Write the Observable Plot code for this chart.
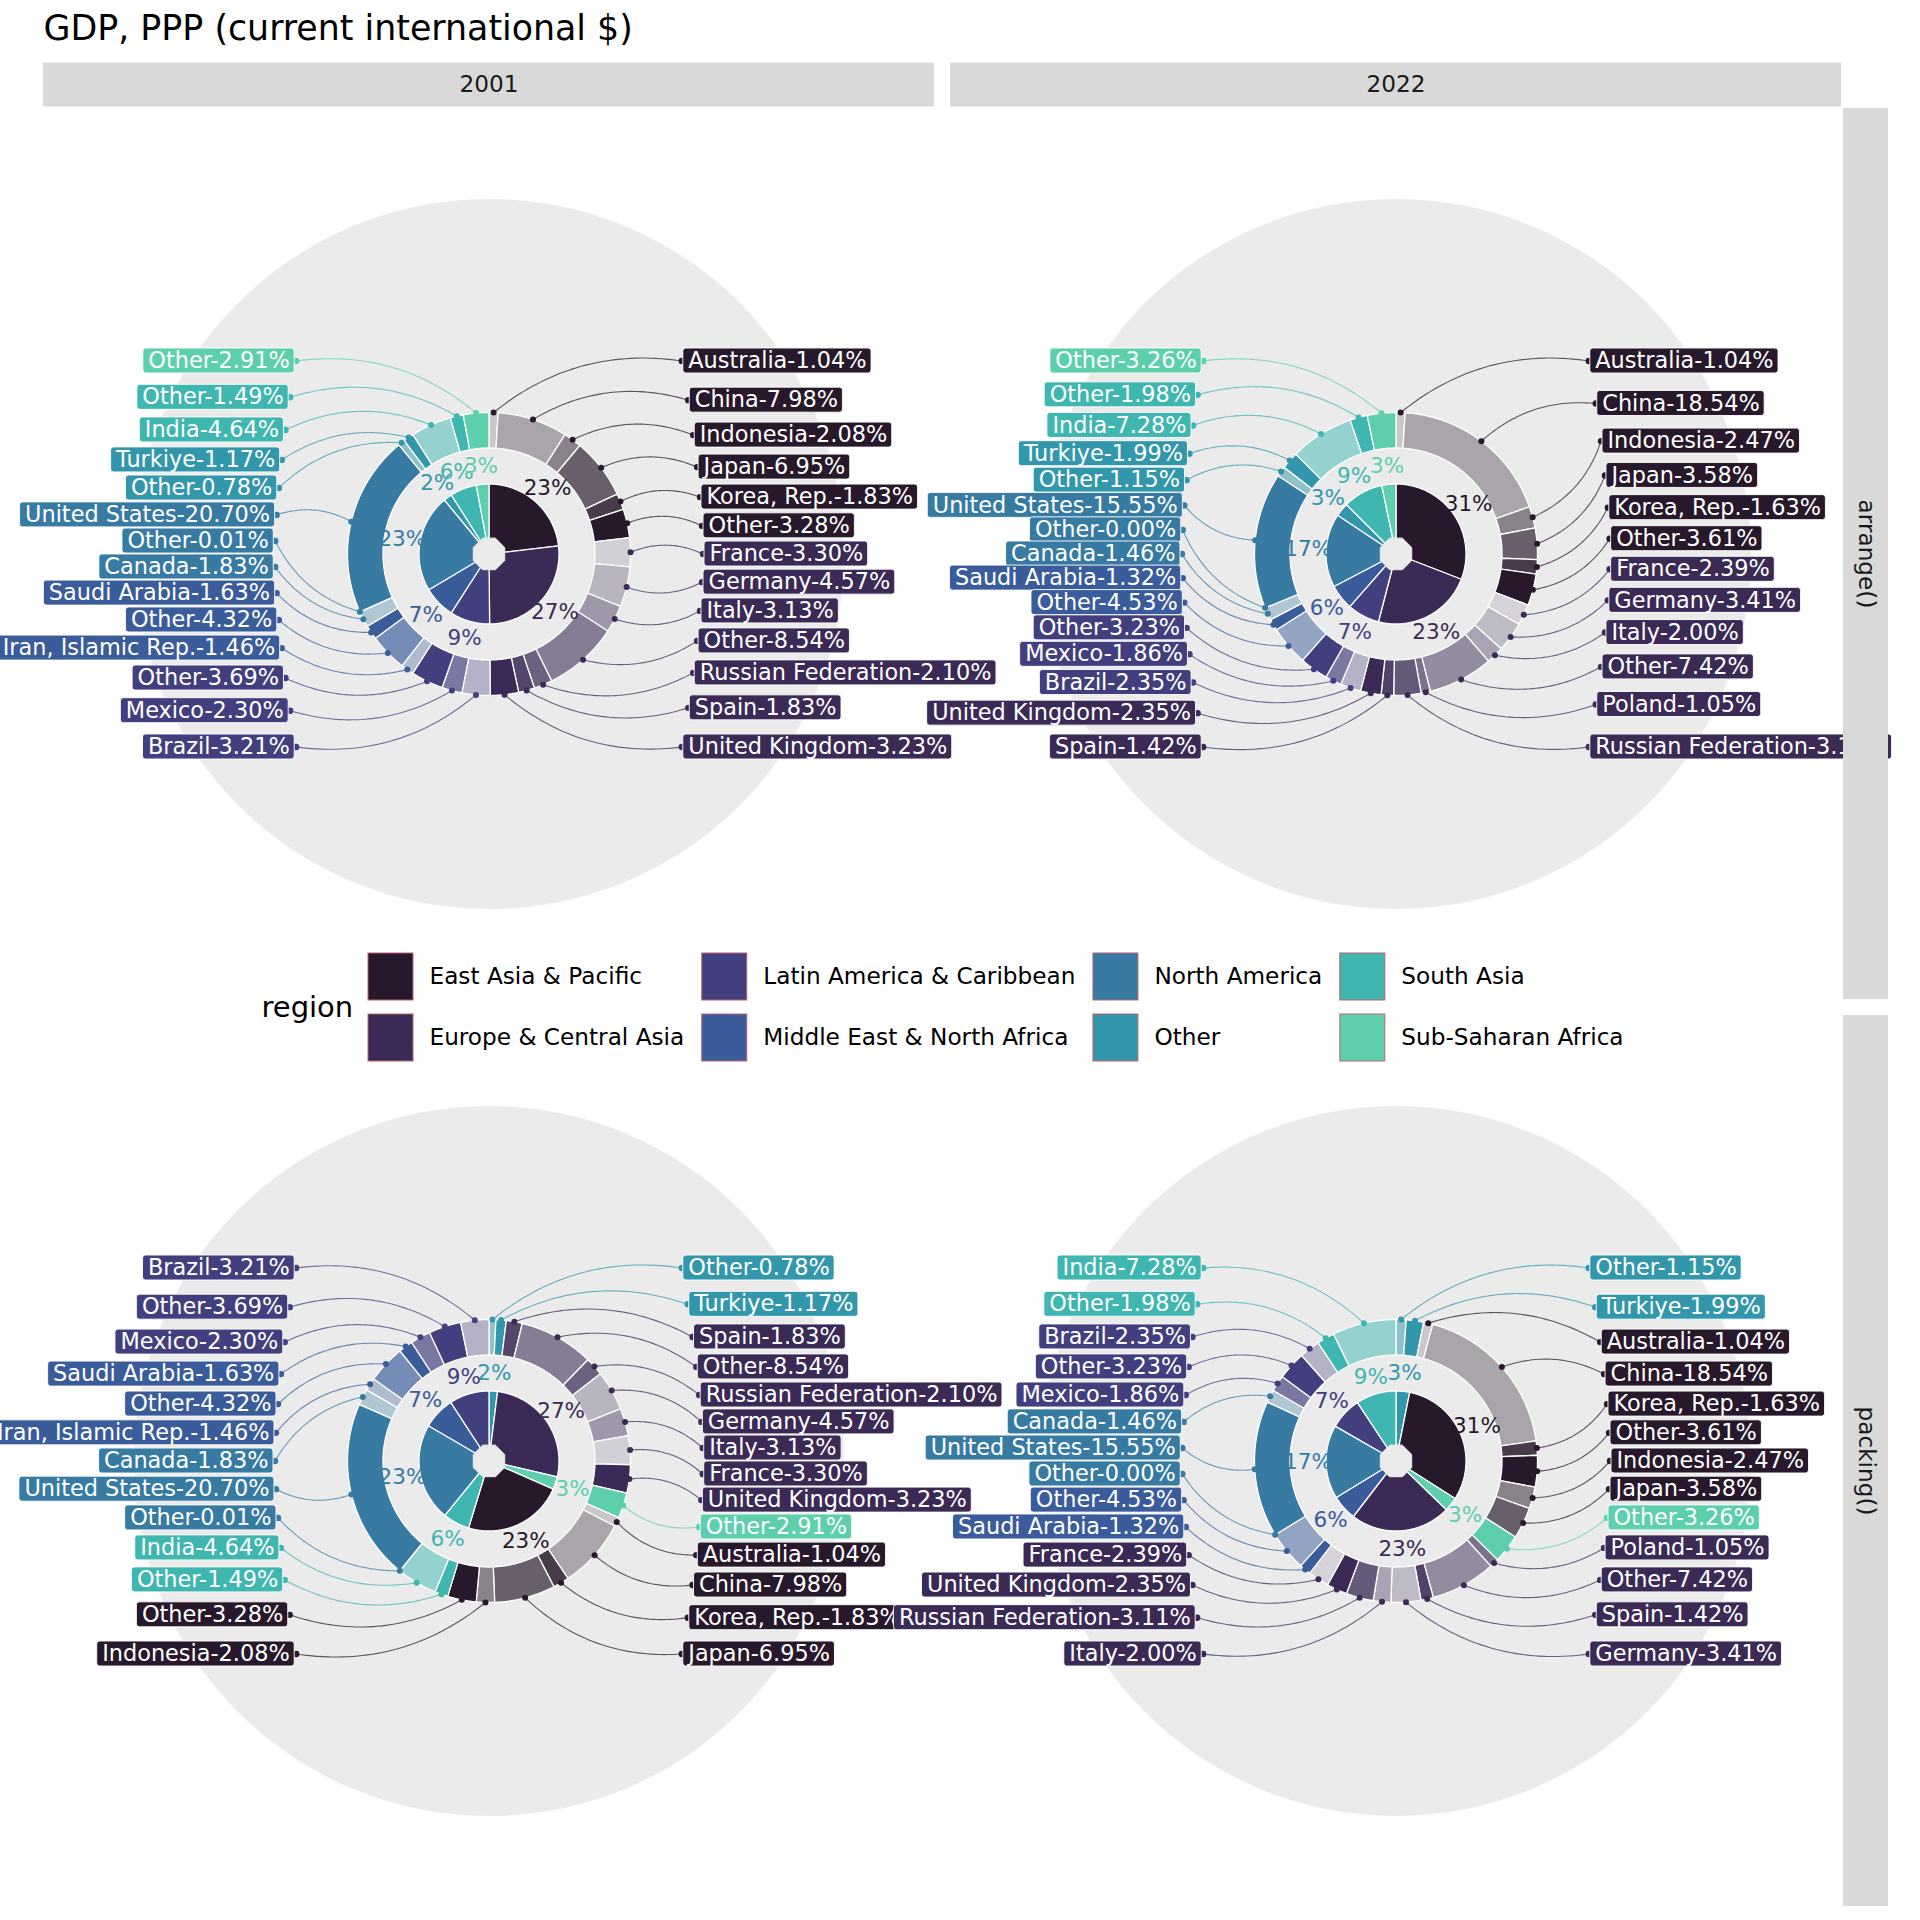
<!DOCTYPE html>
<html><head><meta charset="utf-8">
<script src="https://cdn.jsdelivr.net/npm/d3@7"></script>
<script src="https://cdn.jsdelivr.net/npm/@observablehq/plot@0.6"></script>
<style>body{margin:0;background:#fff} svg{display:block}</style>
</head><body><div id="chart"></div>
<script>
// ---------------- DATA ----------------
const chartTitle = "GDP, PPP (current international $)";
const years = ["2001", "2022"];
const methods = ["arrange()", "packing()"];
const legendTitle = "region";
const regions = ["East Asia & Pacific","Europe & Central Asia","Latin America & Caribbean","Middle East & North Africa","North America","Other","South Asia","Sub-Saharan Africa"];
const palette = ["#28182b","#3a2a55","#423f7e","#3a5c9b","#377ba3","#3397ab","#3fb6b0","#5ecfad"];

const eapCountries = ["Australia","China","Indonesia","Japan","Korea, Rep.","Other"];
const eap2001 = [1.04, 7.98, 2.08, 6.95, 1.83, 3.28];
const eap2022 = [1.04, 18.54, 2.47, 3.58, 1.63, 3.61];
const ecaCountries2001 = ["France","Germany","Italy","Other","Russian Federation","Spain","United Kingdom"];
const eca2001 = [3.30, 4.57, 3.13, 8.54, 2.10, 1.83, 3.23];
const ecaCountries2022 = ["France","Germany","Italy","Other","Poland","Russian Federation","Spain","United Kingdom"];
const eca2022 = [2.39, 3.41, 2.00, 7.42, 1.05, 3.11, 1.42, 2.35];
const lacCountries = ["Brazil","Mexico","Other"];
const lac2001 = [3.21, 2.30, 3.69];
const lac2022 = [2.35, 1.86, 3.23];
const menaCountries2001 = ["Iran, Islamic Rep.","Other","Saudi Arabia"];
const mena2001 = [1.46, 4.32, 1.63];
const menaCountries2022 = ["Other","Saudi Arabia"];
const mena2022 = [4.53, 1.32];
const naCountries = ["Canada","Other","United States"];
const na2001 = [1.83, 0.01, 20.70];
const na2022 = [1.46, 0.00, 15.55];
const otherCountries = ["Other","Turkiye"];
const other2001 = [0.78, 1.17];
const other2022 = [1.15, 1.99];
const saCountries = ["India","Other"];
const sa2001 = [4.64, 1.49];
const sa2022 = [7.28, 1.98];
const ssaCountries = ["Other"];
const ssa2001 = [2.91];
const ssa2022 = [3.26];

// slice order produced by packing()
const packingRegions2001 = ["Other","Europe & Central Asia","Sub-Saharan Africa","East Asia & Pacific","South Asia","North America","Middle East & North Africa","Latin America & Caribbean"];
const packingCountries2001 = [["Other","Turkiye"],["Spain","Other","Russian Federation","Germany","Italy","France","United Kingdom"],["Other"],["Australia","China","Korea, Rep.","Japan","Indonesia","Other"],["Other","India"],["Other","United States","Canada"],["Iran, Islamic Rep.","Other","Saudi Arabia"],["Mexico","Other","Brazil"]];
const packingRegions2022 = ["Other","East Asia & Pacific","Sub-Saharan Africa","Europe & Central Asia","Middle East & North Africa","North America","Latin America & Caribbean","South Asia"];
const packingCountries2022 = [["Other","Turkiye"],["Australia","China","Korea, Rep.","Other","Indonesia","Japan"],["Other"],["Poland","Other","Spain","Germany","Italy","Russian Federation","United Kingdom","France"],["Saudi Arabia","Other"],["Other","United States","Canada"],["Mexico","Other","Brazil"],["Other","India"]];

// ---------------- TABLES ----------------
function buildRows(year) {
  const g = year === "2001"
    ? [[eapCountries, eap2001],[ecaCountries2001, eca2001],[lacCountries, lac2001],[menaCountries2001, mena2001],[naCountries, na2001],[otherCountries, other2001],[saCountries, sa2001],[ssaCountries, ssa2001]]
    : [[eapCountries, eap2022],[ecaCountries2022, eca2022],[lacCountries, lac2022],[menaCountries2022, mena2022],[naCountries, na2022],[otherCountries, other2022],[saCountries, sa2022],[ssaCountries, ssa2022]];
  const rows = [];
  g.forEach(([names, vals], ri) => names.forEach((c, k) => rows.push({region: regions[ri], ri, country: c, value: vals[k], k, n: names.length})));
  return rows;
}
function packedRows(rows, regs, countries) {
  const out = [];
  regs.forEach((r, i) => countries[i].forEach(c => out.push(rows.find(d => d.region === r && d.country === c))));
  return out;
}

// ---------------- LAYOUT ----------------
const W = 1920, H = 1920, BG = "#ebebeb", FONT = "DejaVu Sans";
const L = {left: 43, stripTop: 62.5, stripH: 44, panelTop: 108, size: 891, gap: 16, rStripGap: 2, rStripW: 45};
const colX0 = [0, 1].map(c => L.left + c * (L.size + L.gap));
const rowY0 = [0, 1].map(r => L.panelTop + r * (L.size + L.gap));
const R = {bg: 355, ringIn: 106, ringOut: 141.5, pie: 70, hole: 17, pct: 88, dot: 141.5, labY: 193, labX: 215.5};
const LABEL_FS = 22.4, PAD = 5;

const ctx = document.createElement("canvas").getContext("2d");
function textWidth(s, size) { ctx.font = `${size}px "${FONT}"`; return ctx.measureText(s).width; }
const rad = d => d * Math.PI / 180;
const P = (cx, cy, r, a) => [cx + r * Math.sin(rad(a)), cy - r * Math.cos(rad(a))];
function arc(cx, cy, r, a0, a1) {
  const n = Math.max(2, Math.ceil(Math.abs(a1 - a0) / 0.5) + 1), pts = [];
  for (let i = 0; i < n; i++) pts.push(P(cx, cy, r, a0 + (a1 - a0) * i / (n - 1)));
  return pts;
}

const marks = [];
let uid = 0;
const panels = [];
methods.forEach((m, r) => years.forEach((y, c) => {
  const base = buildRows(y);
  const rows = m === "arrange()" ? base
    : (y === "2001" ? packedRows(base, packingRegions2001, packingCountries2001) : packedRows(base, packingRegions2022, packingCountries2022));
  panels.push({rows, cx: colX0[c] + L.size / 2, cy: rowY0[r] + L.size / 2});
}));

const bgCircles = panels.map(p => ({x: p.cx, y: p.cy}));
marks.push(Plot.dot(bgCircles, {x: "x", y: "y", r: R.bg, fill: BG}));

for (const p of panels) {
  const {rows, cx, cy} = p;
  const total = d3.sum(rows, d => d.value);
  let cum = 0;
  const segs = rows.map(d => { const a0 = cum / total * 360; cum += d.value; const a1 = cum / total * 360; return {...d, a0, a1, mid: (a0 + a1) / 2}; });
  const regOrder = [...new Set(segs.map(d => d.region))];
  const regs = regOrder.map(rg => { const s = segs.filter(d => d.region === rg); return {region: rg, ri: s[0].ri, a0: s[0].a0, a1: s[s.length - 1].a1, value: d3.sum(s, d => d.value)}; });

  // labels
  const right = segs.filter(d => d.mid < 180).sort((a, b) => a.mid - b.mid);
  const left = segs.filter(d => d.mid >= 180).sort((a, b) => b.mid - a.mid);
  const labels = [];
  [[right, 1], [left, -1]].forEach(([arr, side]) => {
    const n = arr.length;
    arr.forEach((d, i) => {
      const t = n > 1 ? i / (n - 1) : 0.5;
      const off = R.labY * Math.tan(rad(35) * (2 * t - 1)) / Math.tan(rad(35));
      const u = off / R.labY;
      const X = R.labX - 21.2 * Math.pow(Math.abs(u), 1.6);
      const text = `${d.country}-${d.value.toFixed(2)}%`;
      const w = textWidth(text, LABEL_FS) + 2 * PAD;
      const edge = cx + side * X;
      labels.push({
        ...d, side, text, y: cy + off,
        x1: side > 0 ? edge : edge - w, x2: side > 0 ? edge + w : edge,
        tx: side > 0 ? edge + PAD : edge - PAD,
        tipx: edge - side * 1.5,
        color: palette[d.ri]
      });
    });
  });

  // leader curves
  const curvePts = [];
  for (const l of labels) {
    const p0 = P(cx, cy, R.dot, l.mid), p2 = [l.tipx, l.y];
    const dx = p2[0] - p0[0], dy = p2[1] - p0[1], len = Math.hypot(dx, dy);
    const mx = (p0[0] + p2[0]) / 2, my = (p0[1] + p2[1]) / 2;
    let nx = -dy / len, ny = dx / len;
    if (nx * (mx - cx) + ny * (my - cy) < 0) { nx = -nx; ny = -ny; }
    const c1 = [mx + nx * 0.22 * len, my + ny * 0.22 * len];
    const id = uid++;
    for (let i = 0; i <= 40; i++) {
      const t = i / 40, a = (1 - t) * (1 - t), b = 2 * (1 - t) * t, e = t * t;
      curvePts.push({id, color: l.color, x: a * p0[0] + b * c1[0] + e * p2[0], y: a * p0[1] + b * c1[1] + e * p2[1]});
    }
  }
  marks.push(Plot.line(curvePts, {x: "x", y: "y", z: "id", stroke: "color", strokeWidth: 1.1, strokeOpacity: 0.72}));

  // inner pie
  const wedgePts = [];
  for (const g of regs) {
    const id = uid++;
    wedgePts.push({id, color: palette[g.ri], x: cx, y: cy});
    for (const [x, y] of arc(cx, cy, R.pie, g.a0, g.a1)) wedgePts.push({id, color: palette[g.ri], x, y});
  }
  marks.push(Plot.line(wedgePts, {x: "x", y: "y", z: "id", fill: "color", stroke: "white", strokeWidth: 1.3, curve: "linear-closed"}));
  const oct = d3.range(8).map(i => { const [x, y] = P(cx, cy, R.hole, 22.5 + i * 45); return {x, y}; });
  marks.push(Plot.line(oct, {x: "x", y: "y", fill: BG, stroke: BG, strokeWidth: 1, curve: "linear-closed"}));

  // outer ring
  const ringPts = [];
  for (const s of segs) {
    if (s.a1 - s.a0 < 1e-6) continue;
    const id = uid++;
    const color = d3.interpolateRgb(BG, palette[s.ri])((s.k + 1) / s.n);
    for (const [x, y] of arc(cx, cy, R.ringOut, s.a0, s.a1)) ringPts.push({id, color, x, y});
    for (const [x, y] of arc(cx, cy, R.ringIn, s.a1, s.a0)) ringPts.push({id, color, x, y});
  }
  marks.push(Plot.line(ringPts, {x: "x", y: "y", z: "id", fill: "color", stroke: "white", strokeWidth: 1.3, curve: "linear-closed"}));

  // dots on ring
  const dots = segs.map(s => { const [x, y] = P(cx, cy, R.dot, s.mid); return {x, y, color: palette[s.ri]}; });
  marks.push(Plot.dot(dots, {x: "x", y: "y", r: 3, fill: "color"}));

  // region percentages
  const pct = regs.map(g => { const [x, y] = P(cx, cy, R.pct, (g.a0 + g.a1) / 2); return {x, y, color: palette[g.ri], text: `${Math.round(g.value)}%`}; });
  marks.push(Plot.text(pct, {x: "x", y: "y", text: "text", fill: "color", fontSize: 21.5, fontFamily: FONT, textAnchor: "middle", lineAnchor: "middle"}));

  // labels
  marks.push(Plot.dot(labels, {x: "tipx", y: "y", r: 3.2, fill: "color"}));
  marks.push(Plot.rect(labels, {x1: "x1", x2: "x2", y1: d => d.y - 12.5, y2: d => d.y + 12.5, fill: "color", stroke: "white", strokeWidth: 1, strokeOpacity: 0.9, rx: 3}));
  marks.push(Plot.text(labels.filter(d => d.side > 0), {x: "tx", y: "y", text: "text", fill: "white", fontSize: LABEL_FS, fontFamily: FONT, textAnchor: "start", lineAnchor: "middle"}));
  marks.push(Plot.text(labels.filter(d => d.side < 0), {x: "tx", y: "y", text: "text", fill: "white", fontSize: LABEL_FS, fontFamily: FONT, textAnchor: "end", lineAnchor: "middle"}));
}

// strips
const topStrips = years.map((y, c) => ({label: y, x1: colX0[c], x2: colX0[c] + L.size, y1: L.stripTop, y2: L.stripTop + L.stripH}));
const rx1 = colX0[1] + L.size + L.rStripGap;
const rightStrips = methods.map((m, r) => ({label: m, x1: rx1, x2: rx1 + L.rStripW, y1: rowY0[r], y2: rowY0[r] + L.size}));
const strips = [...topStrips, ...rightStrips];
marks.push(Plot.rect(strips, {x1: "x1", x2: "x2", y1: "y1", y2: "y2", fill: "#d9d9d9"}));
marks.push(Plot.text(topStrips, {x: d => (d.x1 + d.x2) / 2, y: d => (d.y1 + d.y2) / 2, text: "label", fontSize: 23.2, fill: "#1a1a1a", fontFamily: FONT, lineAnchor: "middle"}));
marks.push(Plot.text(rightStrips, {x: d => (d.x1 + d.x2) / 2, y: d => (d.y1 + d.y2) / 2, text: "label", fontSize: 23.2, fill: "#1a1a1a", fontFamily: FONT, rotate: 90, lineAnchor: "middle"}));

// title
marks.push(Plot.text([chartTitle], {x: L.left, y: 28, text: d => d, fontSize: 34.8, fill: "black", fontFamily: FONT, textAnchor: "start", lineAnchor: "middle"}));

// legend
const LG = {titleX: 261, titleY: 1007, keyX0: 368, keyW: 45, keyH: 47, rowY: [953, 1014], textGap: 16, colGap: 18, fs: 23.2};
const legendItems = regions.map((rg, i) => ({region: rg, color: palette[i], col: Math.floor(i / 2), row: i % 2, w: textWidth(rg, LG.fs)}));
const keyX = [LG.keyX0];
for (let c = 1; c < 4; c++) {
  const maxW = d3.max(legendItems.filter(d => d.col === c - 1), d => d.w);
  keyX.push(keyX[c - 1] + LG.keyW + LG.textGap + maxW + LG.colGap);
}
legendItems.forEach(d => { d.x1 = keyX[d.col]; d.x2 = d.x1 + LG.keyW; d.y1 = LG.rowY[d.row]; d.y2 = d.y1 + LG.keyH; });
marks.push(Plot.text([legendTitle], {x: LG.titleX, y: LG.titleY, text: d => d, fontSize: 29, fill: "black", fontFamily: FONT, textAnchor: "start", lineAnchor: "middle"}));
marks.push(Plot.rect(legendItems, {x1: "x1", x2: "x2", y1: "y1", y2: "y2", fill: "color", stroke: "#b8646f", strokeWidth: 1}));
marks.push(Plot.text(legendItems, {x: d => d.x2 + LG.textGap, y: d => (d.y1 + d.y2) / 2, text: "region", fontSize: LG.fs, fill: "black", fontFamily: FONT, textAnchor: "start", lineAnchor: "middle"}));

const chart = Plot.plot({
  width: W, height: H, margin: 0,
  x: {domain: [0, W], range: [0, W], axis: null},
  y: {domain: [0, H], range: [0, H], axis: null},
  color: {type: "identity"},
  style: {background: "white", fontFamily: FONT, overflow: "hidden"},
  marks
});
document.getElementById("chart").appendChild(chart);
</script></body></html>
